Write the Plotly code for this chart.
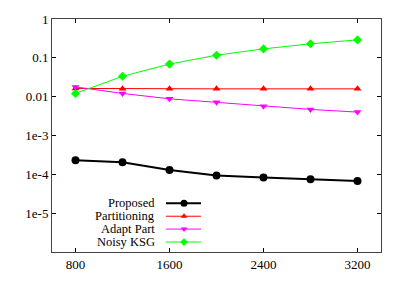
import plotly.graph_objects as go

x_vals = [800, 1200, 1600, 2000, 2400, 2800, 3200]
proposed = [2.3e-4, 2.04e-4, 1.29e-4, 9.4e-5, 8.3e-5, 7.5e-5, 6.7e-5]
partitioning = [0.0163, 0.016, 0.0159, 0.0159, 0.0159, 0.0159, 0.0159]
adapt_part = [0.0178, 0.0121, 0.0088, 0.0072, 0.0057, 0.0047, 0.0040]
noisy_ksg = [0.0121, 0.0335, 0.069, 0.117, 0.17, 0.23, 0.29]

names = ["Proposed", "Partitioning", "Adapt Part", "Noisy KSG"]
colors = ["#000000", "#ff0000", "#ff00ff", "#00ff00"]
symbols = ["circle", "triangle-up", "triangle-down", "diamond"]
widths = [2, 1, 1, 1]
msizes = [8, 7, 7, 7]
series = [proposed, partitioning, adapt_part, noisy_ksg]

x_ticks = [800, 1600, 2400, 3200]
y_tickvals = [1, 0.1, 0.01, 1e-3, 1e-4, 1e-5]
y_ticktext = ["1", "0.1", "0.01", "1e-3", "1e-4", "1e-5"]

FONT = "Liberation Serif, Times New Roman, DejaVu Serif, serif"

fig = go.Figure()
for name, ys, c, s, w, ms in zip(names, series, colors, symbols, widths, msizes):
    fig.add_trace(go.Scatter(x=x_vals, y=ys, mode="lines+markers", name=name,
                             line=dict(color=c, width=w),
                             marker=dict(color=c, symbol=s, size=ms),
                             showlegend=False))

# custom legend (text left of sample) on an overlay pixel-like axis
row_y = [190.7, 204, 217.3, 230.7]
for name, c, s, w, ms, ry in zip(names, colors, symbols, widths, msizes, row_y):
    fig.add_trace(go.Scatter(x=[114, 132, 149], y=[ry, ry, ry], xaxis="x2", yaxis="y2",
                             mode="lines", line=dict(color=c, width=w),
                             showlegend=False, hoverinfo="skip"))
    fig.add_trace(go.Scatter(x=[132], y=[ry], xaxis="x2", yaxis="y2",
                             mode="markers", marker=dict(color=c, symbol=s, size=ms - 1),
                             showlegend=False, hoverinfo="skip"))
    fig.add_annotation(x=105, y=ry, xref="x2", yref="y2", text=name, showarrow=False,
                       xanchor="right", yanchor="middle",
                       font=dict(family=FONT, size=12.5, color="black"))

fig.update_layout(
    width=405, height=284,
    margin=dict(l=52, r=24, t=16, b=27),
    paper_bgcolor="white", plot_bgcolor="white",
    font=dict(family=FONT, size=13, color="black"),
    xaxis=dict(range=[600, 3400], tickvals=x_ticks, ticks="inside", ticklen=4,
               tickcolor="black", showgrid=False, zeroline=False,
               showline=True, linecolor="#444", linewidth=1, mirror="ticks"),
    yaxis=dict(type="log", range=[-6, 0], tickvals=y_tickvals, ticktext=y_ticktext,
               ticks="inside", ticklen=4, tickcolor="black", showgrid=False,
               zeroline=False, showline=True, linecolor="#444", linewidth=1,
               mirror="ticks"),
    xaxis2=dict(range=[0, 329], overlaying="x", visible=False, fixedrange=True),
    yaxis2=dict(range=[241, 0], overlaying="y", visible=False, fixedrange=True),
)

fig.write_html("out.html", config={"displayModeBar": False},
               post_script="document.body.style.margin='0';document.body.style.padding='0';")
